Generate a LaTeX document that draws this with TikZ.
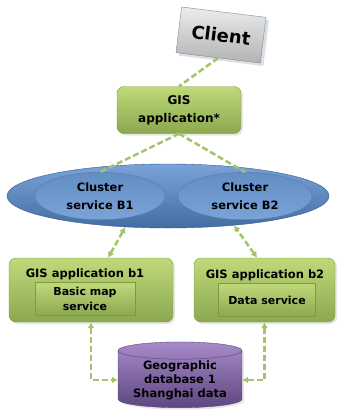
\documentclass[tikz,border=0pt]{standalone}
\usepackage{fontspec}
\setmainfont{DejaVu Sans}
\usetikzlibrary{shapes.geometric,shadows,arrows.meta}
\definecolor{gisgreen}{HTML}{9BBB59}
\definecolor{gisgreenlt}{HTML}{BFD97A}
\definecolor{gisgreendk}{HTML}{7D9A3C}
\definecolor{clusterblue}{HTML}{4F81BD}
\definecolor{clusterlt}{HTML}{7BA3D8}
\definecolor{clusterdk}{HTML}{2F5B93}
\definecolor{dbpurple}{HTML}{8064A2}
\definecolor{dblt}{HTML}{A68BC8}
\definecolor{dbdk}{HTML}{5E4680}
\definecolor{linkgreen}{HTML}{A3C46A}

\tikzset{
  clientbox/.style={draw=clusterdk!70, thin, top color=gray!15, bottom color=gray!60,
    minimum width=85pt, minimum height=46pt, font=\bfseries\fontsize{18}{20}\selectfont,
    drop shadow={opacity=0.25, shadow xshift=3pt, shadow yshift=-3pt}},
  appbox/.style={draw=gisgreendk, rounded corners=7pt, top color=gisgreenlt, bottom color=gisgreen!90!black,
    drop shadow={opacity=0.2, shadow xshift=2pt, shadow yshift=-2pt}},
  innerbox/.style={draw=gisgreendk, top color=gisgreenlt, bottom color=gisgreen!90!black,
    font=\bfseries\fontsize{11}{15}\selectfont, align=center},
  clusterring/.style={ellipse, draw=clusterdk, top color=clusterlt, bottom color=clusterblue!85!black},
  servicering/.style={ellipse, draw=clusterdk!80, top color=clusterblue!90, bottom color=clusterlt,
    font=\bfseries\fontsize{11.5}{18}\selectfont, align=center},
  dbstack/.style={cylinder, shape border rotate=90, aspect=0.18, draw=dbdk,
    top color=dblt, bottom color=dbdk, minimum width=124pt, minimum height=60pt,
    font=\bfseries\fontsize{11.5}{14}\selectfont, align=center, inner sep=1pt,
    drop shadow={opacity=0.2, shadow xshift=2pt, shadow yshift=-2pt}},
  link/.style={draw=linkgreen, line width=2.5pt, dash pattern=on 6pt off 3pt},
  linkarrow/.style={link, {Latex[length=6pt,width=7pt]}-{Latex[length=6pt,width=7pt]}}
}

\begin{document}
\begin{tikzpicture}[x=1pt, y=-1pt]
  \useasboundingbox (0,0) rectangle (342,416);
  % ==== CLIENT ====
  \node[clientbox, rotate=-7] (client) at (221,35) {Client};
  % ==== GIS APPLICATION ====
  \node[appbox, minimum width=124pt, minimum height=47pt, align=center,
    font=\bfseries\fontsize{12}{18}\selectfont] (app) at (179,110) {GIS\\application*};
  % ==== CLUSTER ====
  \node[clusterring, minimum width=322pt, minimum height=64pt] (cluster) at (168,196) {};
  \node[servicering, minimum width=130pt, minimum height=44pt] (b1) at (100,196) {Cluster\\service B1};
  \node[servicering, minimum width=134pt, minimum height=44pt] (b2) at (245,196) {Cluster\\service B2};
  % ==== GIS APPLICATIONS b1, b2 ====
  \node[appbox, minimum width=164pt, minimum height=64pt] (gisb1) at (91,290) {};
  \node[font=\bfseries\fontsize{11.5}{12}\selectfont] (gisb1title) at (85,274) {GIS application b1};
  \node[innerbox, minimum width=100pt, minimum height=33pt] (basic) at (85,299) {Basic map\\service};
  \node[appbox, minimum width=141pt, minimum height=64pt] (gisb2) at (264.5,290) {};
  \node[font=\bfseries\fontsize{11.5}{12}\selectfont] (gisb2title) at (265,275) {GIS application b2};
  \node[innerbox, minimum width=97pt, minimum height=33pt] (data) at (267,300) {Data service};
  % ==== DATABASE ====
  \node[dbstack] (db) at (180,380) {Geographic\\database 1\\Shanghai data};
  % ==== LINKS ====
  \draw[link] (client.south) -- (app.north);
  \draw[link] (app.south) -- (b1.north);
  \draw[link] (app.south) -- (b2.north);
  \draw[linkarrow] (gisb1.62) -- (cluster.216);
  \draw[linkarrow] (gisb2.103) -- (cluster.336);
  \draw[linkarrow] (gisb1.south) |- (db.west);
  \draw[linkarrow] (gisb2.south) |- (db.east);
\end{tikzpicture}
\end{document}
